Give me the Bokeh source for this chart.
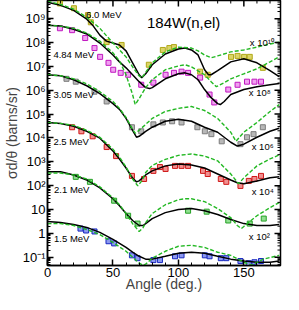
from bokeh.plotting import figure
from bokeh.models import Range1d, FixedTicker, CustomJSTickFormatter, Label
from bokeh.embed import file_html
from bokeh.resources import INLINE

FONT = "Liberation Sans"

# ---- model curves: angle (deg) and log10 of plotted cross section ----
e60_blk_ang = [0, 10, 20, 30, 35, 40, 45, 50, 55, 60, 65, 70, 72, 75, 80, 90, 100, 105, 110, 115, 120, 123, 125, 130, 140, 150, 160, 170, 177]
e60_blk_lg = [9.69, 9.56, 9.35, 8.98, 8.69, 8.31, 8.06, 7.98, 7.90, 7.65, 7.15, 6.65, 6.53, 6.69, 7.07, 7.52, 7.73, 7.77, 7.69, 7.48, 6.86, 6.65, 6.65, 6.82, 7.19, 7.32, 7.15, 6.82, 6.57]
e60_grn_ang = [0, 10, 20, 30, 40, 50, 55, 60, 65, 70, 72, 75, 80, 90, 100, 110, 115, 120, 125, 130, 140, 150, 160, 170, 177]
e60_grn_lg = [9.73, 9.60, 9.40, 9.06, 8.60, 7.98, 7.69, 7.40, 6.98, 6.60, 6.52, 6.75, 7.15, 7.61, 7.81, 7.77, 7.65, 7.48, 7.36, 7.44, 7.61, 7.69, 7.81, 7.94, 8.02]

e484_blk_ang = [0, 10, 20, 30, 40, 50, 55, 60, 65, 70, 75, 78, 80, 90, 100, 105, 110, 115, 120, 125, 130, 132, 135, 140, 150, 160, 170, 177]
e484_blk_lg = [8.73, 8.69, 8.56, 8.36, 7.98, 7.48, 7.19, 6.94, 6.65, 6.36, 6.11, 6.07, 6.11, 6.48, 6.69, 6.73, 6.65, 6.44, 6.03, 5.69, 5.44, 5.40, 5.53, 5.82, 6.03, 6.15, 6.23, 6.28]
e484_grn_ang = [0, 10, 20, 30, 40, 50, 55, 60, 65, 67, 70, 75, 80, 90, 100, 105, 110, 120, 125, 129, 135, 140, 150, 160, 170, 177]
e484_grn_lg = [8.73, 8.69, 8.60, 8.40, 8.06, 7.57, 7.23, 6.65, 5.82, 5.40, 5.65, 6.11, 6.44, 6.86, 7.02, 7.07, 6.98, 6.65, 6.36, 6.15, 6.32, 6.48, 6.69, 6.90, 7.19, 7.40]

e305_blk_ang = [0, 10, 20, 30, 40, 50, 55, 60, 65, 68, 70, 75, 80, 90, 100, 110, 120, 130, 140, 145, 150, 160, 170, 177]
e305_blk_lg = [6.65, 6.61, 6.44, 6.19, 5.86, 5.44, 5.20, 4.82, 4.32, 4.03, 4.07, 4.28, 4.45, 4.70, 4.78, 4.70, 4.45, 4.24, 3.82, 3.66, 3.74, 4.03, 4.28, 4.41]
e305_grn_ang = [0, 10, 20, 30, 40, 50, 55, 60, 65, 67, 70, 75, 80, 90, 100, 110, 120, 130, 140, 144, 150, 160, 170, 177]
e305_grn_lg = [6.65, 6.61, 6.48, 6.27, 5.94, 5.53, 5.24, 4.86, 4.36, 4.20, 4.32, 4.57, 4.82, 5.11, 5.24, 5.32, 5.15, 4.82, 4.24, 3.86, 4.24, 4.65, 5.11, 5.40]

e25_blk_ang = [0, 10, 20, 30, 40, 50, 55, 60, 65, 68, 70, 75, 80, 90, 100, 110, 120, 130, 140, 145, 150, 160, 170, 177]
e25_blk_lg = [4.65, 4.61, 4.49, 4.28, 3.99, 3.45, 3.12, 2.74, 2.32, 2.16, 2.20, 2.45, 2.62, 2.83, 2.91, 2.87, 2.74, 2.49, 2.24, 2.12, 2.08, 2.20, 2.33, 2.37]
e25_grn_ang = [0, 10, 20, 30, 40, 50, 55, 60, 65, 69, 72, 75, 80, 90, 100, 110, 120, 130, 140, 146, 150, 160, 170, 177]
e25_grn_lg = [4.65, 4.61, 4.53, 4.32, 4.03, 3.53, 3.20, 2.78, 2.28, 1.99, 2.20, 2.55, 2.85, 3.10, 3.27, 3.33, 3.24, 3.04, 2.49, 2.08, 2.33, 2.83, 3.12, 3.29]

e21_blk_ang = [0, 10, 20, 30, 40, 50, 55, 60, 65, 70, 73, 75, 80, 90, 100, 110, 120, 130, 140, 150, 160, 170, 177]
e21_blk_lg = [2.58, 2.58, 2.45, 2.24, 1.91, 1.45, 1.16, 0.83, 0.54, 0.33, 0.33, 0.41, 0.62, 0.87, 1.00, 1.04, 0.95, 0.79, 0.58, 0.41, 0.33, 0.33, 0.37]
e21_grn_ang = [0, 10, 20, 30, 40, 50, 55, 60, 65, 70, 73, 75, 80, 90, 100, 105, 110, 120, 130, 140, 145, 148, 150, 160, 170, 177]
e21_grn_lg = [2.53, 2.53, 2.45, 2.28, 1.95, 1.49, 1.20, 0.83, 0.41, 0.08, 0.24, 0.45, 0.83, 1.20, 1.41, 1.45, 1.45, 1.33, 1.04, 0.66, 0.33, 0.20, 0.29, 0.74, 1.08, 1.29]

e15_blk_ang = [0, 10, 20, 30, 40, 50, 60, 65, 70, 75, 80, 90, 100, 110, 120, 130, 140, 150, 160, 170, 177]
e15_blk_lg = [0.50, 0.46, 0.37, 0.25, 0.04, -0.25, -0.59, -0.79, -0.96, -1.08, -1.08, -0.96, -0.83, -0.79, -0.83, -0.96, -1.08, -1.16, -1.21, -1.21, -1.16]
e15_grn_ang = [0, 10, 20, 30, 40, 50, 60, 65, 70, 73, 75, 80, 90, 100, 110, 120, 130, 140, 150, 156, 165, 177]
e15_grn_lg = [0.41, 0.41, 0.33, 0.16, -0.05, -0.38, -0.75, -1.00, -1.25, -1.33, -1.29, -1.04, -0.75, -0.54, -0.50, -0.59, -0.79, -0.92, -1.21, -1.33, -1.08, -0.92]

# ---- measured points: angle (deg), log10 of plotted cross section ----
d60_ang = [9.5, 20.2, 30.9, 33.1, 45.2, 56.6, 77.4, 88.1, 93.1, 96.6, 116.6, 122.4, 140.2, 145.2, 150.2, 154.5, 164.5]
d60_lg = [9.64, 9.44, 9.15, 8.85, 8.02, 7.90, 7.07, 7.69, 7.77, 7.81, 6.78, 6.65, 7.40, 7.44, 7.40, 7.40, 6.94]
d484_ang = [9.5, 18.8, 28.8, 35.9, 40.2, 46.6, 50.2, 55.9, 61.6, 71.6, 80.9, 90.2, 96.6, 102.4, 107.4, 116.6, 123.8, 127.4, 138.1, 145.2, 152.4, 158.1, 163.1]
d484_lg = [8.60, 8.52, 8.19, 7.77, 7.40, 7.15, 6.86, 6.73, 6.65, 6.23, 6.32, 6.65, 6.73, 6.78, 6.73, 6.53, 5.82, 5.49, 6.03, 6.23, 6.36, 6.36, 6.36]
d305_ang = [14.5, 21.6, 35.9, 45.2, 64.5, 71.6, 80.9, 88.1, 95.2, 102.4, 114.5, 120.2, 125.2, 133.1, 147.4, 152.4, 157.4, 164.5]
d305_lg = [6.48, 6.36, 5.94, 5.53, 4.45, 4.28, 4.57, 4.65, 4.70, 4.65, 4.45, 4.28, 4.16, 3.86, 3.74, 4.03, 4.16, 4.45]
d25_ang = [18.8, 25.9, 34.5, 45.2, 52.4, 64.5, 73.8, 80.9, 85.9, 90.2, 97.4, 102.4, 107.4, 118.8, 122.4, 132.4, 136.6, 147.4, 153.8, 158.1, 163.1]
d25_lg = [4.45, 4.28, 4.07, 3.62, 3.24, 2.41, 2.28, 2.62, 2.78, 2.70, 2.83, 2.83, 2.83, 2.62, 2.49, 2.28, 2.16, 1.99, 2.20, 2.28, 2.41]
d21_ang = [21.6, 32.4, 50.9, 61.6, 68.8, 107.4, 121.6, 138.1, 154.5, 165.2]
d21_lg = [2.37, 2.16, 1.37, 0.74, 0.41, 0.95, 0.91, 0.54, 0.41, 0.62]
d15_ang = [25.2, 29.5, 35.9, 46.6, 50.9, 64.5, 68.8, 80.9, 85.9, 97.4, 102.4, 120.2, 123.8, 132.4, 136.6, 147.4, 153.8, 158.1, 163.1]
d15_lg = [0.20, 0.12, 0.08, -0.33, -0.42, -0.92, -1.04, -1.12, -1.12, -0.96, -0.92, -0.92, -0.96, -1.04, -1.04, -1.16, -1.25, -1.21, -1.16]

# ---- texts ----
energy_labels = ["6.0 MeV", "4.84 MeV", "3.05 MeV", "2.5 MeV", "2.1 MeV", "1.5 MeV"]
energy_label_ang = [29.5, 4.5, 4.5, 4.5, 5.0, 5.0]
energy_label_lg = [9.17, 7.49, 5.82, 3.86, 1.83, -0.21]
scale_labels = ["x 10\u00b9\u2070", "x 10\u2078", "x 10\u2076", "x 10\u2074", "x 10\u00b2"]
scale_label_ang = [154.5, 153.8, 156.0, 156.0, 153.8]
scale_label_lg = [8.02, 5.90, 3.66, 1.74, -0.13]
title_text = "184W(n,el)"

BLACK = "#000000"
GREEN = "#22b822"
point_line = ["#b0a818", "#c018c0", "#7c7c7c", "#d01818", "#28a028", "#1828c0"]
point_fill = ["#dcd468", "#f0a0f0", "#b8b8b8", "#f09090", "#90e090", "#8c98f0"]

X0, X1 = 0, 178
Y0, Y1 = 0.045, 5.8e9

p = figure(width=283, height=294, y_axis_type="log",
           x_range=Range1d(X0, X1), y_range=Range1d(Y0, Y1),
           output_backend="svg", toolbar_location=None,
           min_border_left=38, min_border_right=3, min_border_top=0, min_border_bottom=0)
p.background_fill_color = "white"
p.border_fill_color = "white"
p.outline_line_color = "black"
p.outline_line_width = 1.5
p.grid.visible = False

curves = [
    (e60_blk_ang, e60_blk_lg, e60_grn_ang, e60_grn_lg),
    (e484_blk_ang, e484_blk_lg, e484_grn_ang, e484_grn_lg),
    (e305_blk_ang, e305_blk_lg, e305_grn_ang, e305_grn_lg),
    (e25_blk_ang, e25_blk_lg, e25_grn_ang, e25_grn_lg),
    (e21_blk_ang, e21_blk_lg, e21_grn_ang, e21_grn_lg),
    (e15_blk_ang, e15_blk_lg, e15_grn_ang, e15_grn_lg),
]
points = [(d60_ang, d60_lg), (d484_ang, d484_lg), (d305_ang, d305_lg),
          (d25_ang, d25_lg), (d21_ang, d21_lg), (d15_ang, d15_lg)]

for i, (ba, bl, ga, gl) in enumerate(curves):
    pa, pl = points[i]
    p.scatter(pa, [10.0 ** v for v in pl], marker="square", size=5,
              line_color=point_line[i], fill_color=point_fill[i], line_width=1)
    p.line(ba, [10.0 ** v for v in bl], line_color=BLACK, line_width=1.5)
    p.line(ga, [10.0 ** v for v in gl], line_color=GREEN, line_width=1.4, line_dash="4 2")

for t, a, l in zip(energy_labels, energy_label_ang, energy_label_lg):
    p.add_layout(Label(x=a, y=10.0 ** l, text=t, text_font=FONT, text_font_size="9.5px",
                       text_baseline="middle", text_align="left", text_color="black"))
for t, a, l in zip(scale_labels, scale_label_ang, scale_label_lg):
    p.add_layout(Label(x=a, y=10.0 ** l, text=t, text_font=FONT, text_font_size="9.5px",
                       text_baseline="middle", text_align="left", text_color="black"))
p.add_layout(Label(x=76, y=10.0 ** 8.83, text=title_text, text_font=FONT, text_font_size="15px",
                   text_baseline="middle", text_align="left", text_color="black"))

# ---- axes ----
y_major = [10.0 ** k for k in range(-1, 10)]
y_minor = [m * 10.0 ** k for k in range(-2, 10) for m in range(2, 10) if Y0 < m * 10.0 ** k < Y1]
x_major = [0, 50, 100, 150]
x_minor = [v for v in range(0, 181, 10) if v not in x_major and v < X1]

fmt = CustomJSTickFormatter(code="""
const sup = {"-":"\u207b","0":"\u2070","1":"\u00b9","2":"\u00b2","3":"\u00b3","4":"\u2074",
             "5":"\u2075","6":"\u2076","7":"\u2077","8":"\u2078","9":"\u2079"};
const e = Math.round(Math.log10(tick));
if (e == 0) return "1";
if (e == 1) return "10";
return "10" + String(e).split("").map(c => sup[c]).join("");
""")

def style(ax):
    ax.axis_line_width = 1.5
    ax.axis_line_color = "black"
    ax.major_tick_in = 6
    ax.major_tick_out = 0
    ax.minor_tick_in = 3
    ax.minor_tick_out = 0
    ax.major_tick_line_width = 1.5
    ax.minor_tick_line_width = 1
    ax.major_label_text_font = FONT
    ax.major_label_text_color = "black"
    ax.major_label_text_font_size = "13px"
    ax.axis_label_text_font = FONT
    ax.axis_label_text_font_size = "14px"
    ax.axis_label_text_font_style = "normal"

xa = p.xaxis[0]
style(xa)
xa.ticker = FixedTicker(ticks=x_major, minor_ticks=x_minor)
xa.axis_label = "Angle (deg.)"
xa.major_label_standoff = 2
xa.axis_label_standoff = -4

ya = p.yaxis[0]
style(ya)
ya.ticker = FixedTicker(ticks=y_major, minor_ticks=y_minor)
ya.formatter = fmt
ya.axis_label = "\u03c3d/\u03b8 (barns/sr)"
ya.major_label_standoff = 2
ya.axis_label_standoff = 0

# mirrored inward ticks on the top and right frame edges (half of each dash is clipped)
p.scatter([X1] * len(y_major), y_major, marker="dash", size=12, line_color="black", line_width=1.5)
p.scatter([X1] * len(y_minor), y_minor, marker="dash", size=6, line_color="black", line_width=1)
p.scatter(x_major, [Y1] * len(x_major), marker="dash", angle=1.5708, size=12, line_color="black", line_width=1.5)
p.scatter(x_minor, [Y1] * len(x_minor), marker="dash", angle=1.5708, size=6, line_color="black", line_width=1)

open("out.html", "w").write(file_html(p, INLINE))
